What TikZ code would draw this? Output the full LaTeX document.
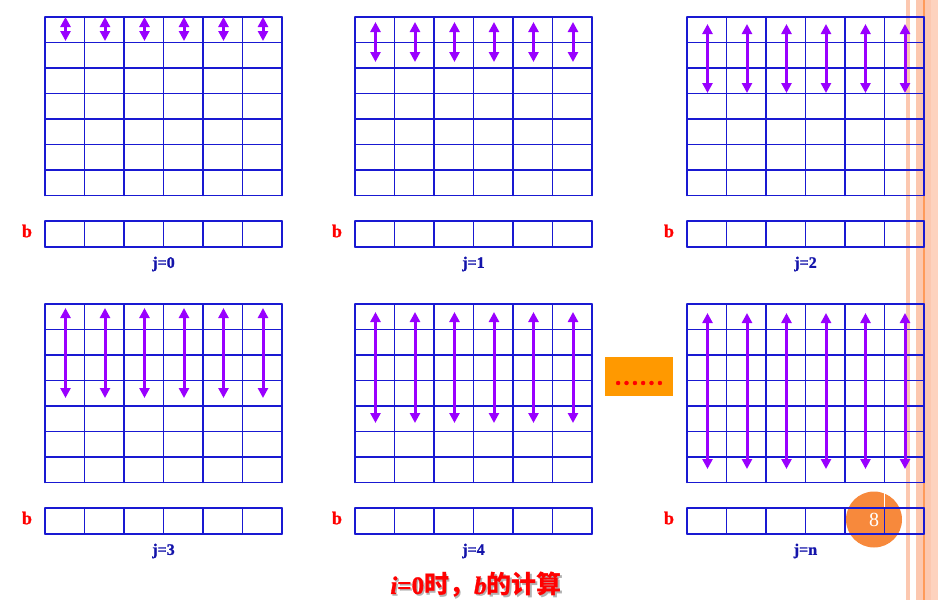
\documentclass[tikz,border=0pt]{standalone}
\usepackage{fontspec}
\setmainfont{Liberation Serif}[BoldFont={Liberation Serif Bold},ItalicFont={Liberation Serif Italic},BoldItalicFont={Liberation Serif Bold Italic},BoldFeatures={FakeBold=1.2},BoldItalicFeatures={FakeBold=1.2}]
\newfontfamily\cjk{Noto Sans CJK SC}
\usetikzlibrary{arrows.meta}
\definecolor{gridblue}{RGB}{25,25,210}
\definecolor{arrowpurple}{RGB}{153,0,255}
\definecolor{boxorange}{RGB}{255,153,0}
\definecolor{pageorange}{RGB}{247,137,60}
\definecolor{stripe}{RGB}{252,200,176}
\definecolor{stripelight}{RGB}{253,210,190}
\definecolor{stripedark}{RGB}{255,155,90}
\definecolor{labelblue}{RGB}{20,20,170}

\begin{document}
\begin{tikzpicture}[x=1pt,y=-1pt,line cap=round,line join=round,
    cellline/.style={gridblue,line width=1.4pt},
    ptr/.style={arrowpurple,line width=3pt,line cap=butt,{Triangle[width=10pt,length=10pt]}-{Triangle[width=10pt,length=10pt]}},
    blabel/.style={red,font=\fontsize{18}{20}\selectfont\bfseries},
    jlabel/.style={labelblue,font=\fontsize{16}{18}\selectfont\bfseries}]
      \useasboundingbox (0,0) rectangle (938,600);

      % Page border stripes
      \fill[stripe] (906,0) rectangle (910,600);
      \fill[stripe] (916,0) rectangle (923,600);
      \fill[stripedark] (923,0) rectangle (925,600);
      \fill[stripe] (925,0) rectangle (931,600);
      \fill[stripelight] (931,0) rectangle (938,600);

      % Page number
      \fill[pageorange] (874,519.5) circle (28pt);
      \draw[white,line width=1pt] (884.5,491) -- (884.5,507);
      \node[white,font=\fontsize{20}{22}\selectfont] (page) at (874,520) {8};

      % Add Grids
      \foreach \x/\y/\j [count=\i] in {45/17/0,355/17/1,687/17/2,45/304/3,355/304/4,687/304/n} {
        \foreach \c in {0,...,6}
          \draw[cellline] (\x+\c*39.5,\y) -- (\x+\c*39.5,\y+178.5);
        \foreach \r in {0,...,7}
          \draw[cellline] (\x,\y+\r*25.5) -- (\x+237,\y+\r*25.5);
        % row b
        \foreach \c in {0,...,6}
          \draw[cellline] (\x+\c*39.5,\y+204) -- (\x+\c*39.5,\y+230);
        \draw[cellline] (\x,\y+204) -- (\x+237,\y+204);
        \draw[cellline] (\x,\y+230) -- (\x+237,\y+230);
        \node[blabel] (b\i) at (\x-18,\y+214) {b};
        \node[jlabel] (j\i) at (\x+118.5,\y+247) {j=\j};
      }

      % Add Arrows
      \foreach \x/\atop/\abot in {45/17/41,355/22/62,687/24/93,45/308/398,355/312/423,687/313/469} {
        \foreach \c in {0,...,5}
          \draw[ptr] (\x+20.5+\c*39.5,\atop) -- (\x+20.5+\c*39.5,\abot);
      }

      % More steps
      \node[fill=boxorange,minimum width=68pt,minimum height=39pt,inner sep=0pt] (more) at (639,376.5) {};
      \node[red,font=\fontsize{25}{27}\selectfont\bfseries,inner sep=0pt] (dots) at (639,383) {……};

      % Caption
      \node[black!30,font=\fontsize{25}{27}\selectfont] (shadow) at (477.5,586.5)
        {\textbf{\textit{i}=0}{\cjk\bfseries 时，}\textbf{\textit{b}}{\cjk\bfseries 的计算}};
      \node[red,font=\fontsize{25}{27}\selectfont] (title) at (476,585)
        {\textbf{\textit{i}=0}{\cjk\bfseries 时，}\textbf{\textit{b}}{\cjk\bfseries 的计算}};
    \end{tikzpicture}
\end{document}
